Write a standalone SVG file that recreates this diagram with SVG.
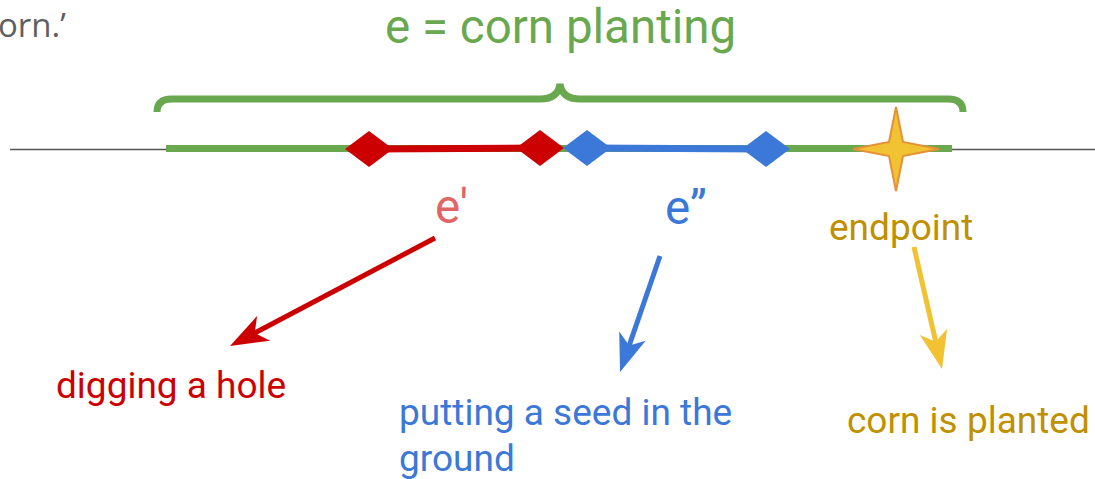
<svg xmlns="http://www.w3.org/2000/svg" width="1095" height="479" viewBox="0 0 1095 479">
<style>
text { font-family: Roboto, "Liberation Sans", sans-serif; }
.big { font-size: 47.5px; }
.small { font-size: 37px; }
.seg { stroke-width: 7; fill: none; }
.arrow { stroke-width: 5; fill: none; }
</style>
<defs>
<marker id="ahRed" markerUnits="userSpaceOnUse" markerWidth="60" markerHeight="40" viewBox="-20 -20 60 40" refX="0" refY="0" orient="auto" overflow="visible">
<path d="M25 0 L-13 -14 L-3 0 L-13 14 Z" fill="#cc0000"/>
</marker>
<marker id="ahBlue" markerUnits="userSpaceOnUse" markerWidth="60" markerHeight="40" viewBox="-20 -20 60 40" refX="0" refY="0" orient="auto" overflow="visible">
<path d="M25 0 L-13 -14 L-3 0 L-13 14 Z" fill="#3c78d8"/>
</marker>
<marker id="ahYellow" markerUnits="userSpaceOnUse" markerWidth="60" markerHeight="40" viewBox="-20 -20 60 40" refX="0" refY="0" orient="auto" overflow="visible">
<path d="M25 0 L-13 -14 L-3 0 L-13 14 Z" fill="#f1c232"/>
</marker>
</defs>
<rect width="1095" height="479" fill="#ffffff"/>

<g id="caption">
<text x="-2" y="37" style="font-family:'Open Sans','Liberation Sans',sans-serif;font-size:33px" fill="#5f5f5f">orn.’</text>
</g>

<g id="title">
<text class="big" x="385" y="43" fill="#6aa84f">e = corn planting</text>
</g>

<g id="brace">
<path d="M157 112 Q157 99 172 99 L540 99 Q558 99 560 84 Q562 99 580 99 L948 99 Q963 99 963 112" stroke="#6aa84f" stroke-width="7" fill="none"/>
</g>

<g id="timeline">
<line x1="10" y1="149.5" x2="1095" y2="149.5" stroke="#555555" stroke-width="1.5"/>
<line class="seg" x1="166" y1="148.5" x2="952" y2="148.5" stroke="#6aa84f"/>
</g>

<g id="e-prime">
<line class="seg" x1="369" y1="149" x2="540" y2="148" stroke="#cc0000"/>
<polygon points="345,149 369,131 393,149 369,167" fill="#cc0000"/>
<polygon points="516,148 540,130 564,148 540,166" fill="#cc0000"/>
<text class="big" x="435" y="223" fill="#e06666">e'</text>
</g>

<g id="e-double-prime">
<line class="seg" x1="587" y1="148" x2="766" y2="149" stroke="#3c78d8"/>
<polygon points="563,148 587,130 611,148 587,166" fill="#3c78d8"/>
<polygon points="742,149 766,131 790,149 766,167" fill="#3c78d8"/>
<text class="big" x="665" y="224" fill="#3c78d8">e”</text>
</g>

<g id="endpoint">
<path d="M896 107 L903 142 L939 149 L903 156 L896 191 L889 156 L853 149 L889 142 Z" fill="#f1c232" stroke="#e69138" stroke-width="2" stroke-linejoin="miter"/>
<text class="small" x="829" y="240" fill="#bf9000">endpoint</text>
</g>

<g id="digging">
<text class="small" x="56" y="398" fill="#cc0000">digging a hole</text>
</g>

<g id="seed">
<text class="small" x="399" y="425" fill="#3c78d8">putting a seed in the</text>
<text class="small" x="399" y="471" fill="#3c78d8">ground</text>
</g>

<g id="planted">
<text class="small" x="847" y="433" fill="#bf9000">corn is planted</text>
</g>

<g id="connectors">
<line class="arrow" x1="435" y1="238" x2="252.1" y2="334.4" stroke="#cc0000" marker-end="url(#ahRed)"/>
<line class="arrow" x1="660" y1="256" x2="628.2" y2="348.4" stroke="#3c78d8" marker-end="url(#ahBlue)"/>
<line class="arrow" x1="914" y1="247" x2="936.4" y2="344.6" stroke="#f1c232" marker-end="url(#ahYellow)"/>
</g>
</svg>
